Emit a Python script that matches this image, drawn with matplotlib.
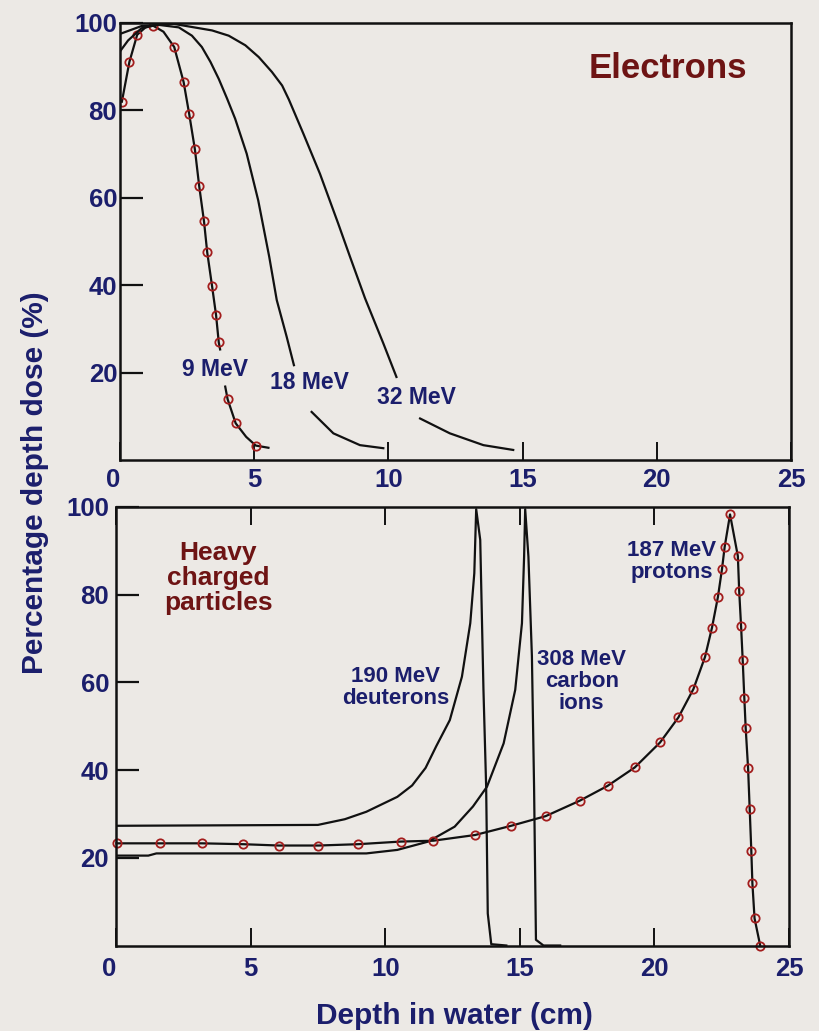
import matplotlib
matplotlib.use("Agg")
import matplotlib.pyplot as plt
import numpy as np

plt.rcParams['font.family'] = ['Liberation Sans', 'DejaVu Sans']
plt.rcParams['font.weight'] = 'bold'

nan = np.nan

# ---- electrons (top panel) ----
e9_x = [0.07, 0.35, 0.64, 0.95, 1.23, 1.62, 2.02, 2.37, 2.58, 2.79, 2.95, 3.13, 3.25, 3.43, 3.58, 3.68, 3.73,
        nan, 3.92, 4.01, 4.31, 4.70, 5.06, 5.53]
e9_y = [82.0, 91.1, 97.3, 99.0, 99.4, 98.0, 94.5, 86.5, 79.1, 71.1, 62.7, 54.6, 47.5, 39.8, 33.1, 26.9, 25.3,
        nan, 16.8, 13.9, 8.4, 5.3, 3.3, 2.8]
e9_marks = [0, 1, 2, 4, 6, 7, 8, 9, 10, 11, 12, 13, 14, 15, 19, 20, 22]

e18_x = [0.0, 0.3, 0.8, 1.4, 2.19, 2.68, 3.05, 3.37, 3.68, 3.99, 4.29, 4.72, 5.15, 5.56, 5.84, 6.21, 6.48,
         nan, 7.14, 7.95, 8.94, 9.81]
e18_y = [93.5, 96.0, 98.8, 99.6, 99.0, 97.1, 94.5, 91.1, 87.2, 82.7, 78.1, 70.1, 59.4, 46.5, 36.6, 28.2, 21.7,
         nan, 11.0, 6.1, 3.4, 2.7]

e32_x = [0.0, 0.8, 2.0, 3.43, 4.05, 4.67, 5.17, 5.66, 6.04, 6.29, 6.83, 7.45, 8.13, 8.57, 9.13, 9.81, 10.3,
         nan, 11.18, 12.29, 13.54, 14.65]
e32_y = [97.5, 99.3, 99.8, 98.3, 97.1, 94.9, 92.2, 88.8, 85.7, 82.5, 74.7, 65.5, 54.1, 46.5, 37.0, 26.7, 19.0,
         nan, 9.5, 6.1, 3.4, 2.3]

# ---- heavy charged particles (bottom panel) ----
deut_x = [0.0, 7.5, 8.5, 9.3, 10.45, 11.0, 11.5, 11.9, 12.4, 12.85, 13.16, 13.31, 13.38, 13.53, 13.65,
          13.75, 13.81, 13.94, 14.5]
deut_y = [27.3, 27.5, 28.8, 30.5, 33.9, 36.5, 40.5, 45.5, 51.4, 61.3, 73.5, 84.9, 99.5, 92.5, 58.3,
          36.2, 7.3, 0.3, 0.0]

carb_x = [0.0, 1.2, 1.5, 5.0, 9.3, 10.45, 11.6, 12.58, 13.26, 13.78, 14.4, 14.83, 15.08, 15.16, 15.2,
          15.32, 15.45, 15.53, 15.6, 15.88, 16.5]
carb_y = [20.5, 20.5, 21.0, 21.0, 21.0, 21.8, 23.7, 27.1, 31.7, 36.2, 46.1, 58.3, 73.5, 88.7, 99.5,
          88.7, 65.9, 36.2, 1.3, 0.0, 0.0]

prot_x = [0.02, 1.63, 3.2, 4.73, 6.05, 7.52, 8.98, 10.57, 11.79, 13.34, 14.68, 15.96, 17.22, 18.26,
          19.27, 20.21, 20.89, 21.45, 21.88, 22.14, 22.36, 22.51, 22.61, 22.81, 23.1, 23.15, 23.22,
          23.28, 23.34, 23.39, 23.48, 23.54, 23.6, 23.64, 23.72, 23.93]
prot_y = [23.3, 23.3, 23.3, 23.1, 22.8, 22.8, 23.1, 23.7, 23.9, 25.2, 27.3, 29.5, 33.0, 36.4,
          40.6, 46.3, 52.0, 58.5, 65.8, 72.5, 79.5, 85.8, 90.9, 98.3, 88.8, 80.8, 72.8,
          65.1, 56.5, 49.7, 40.4, 31.1, 21.6, 14.2, 6.2, 0.0]

x_ticks = [0, 5, 10, 15, 20, 25]
y_ticks = [20, 40, 60, 80, 100]

navy = '#1b1e6c'
darkred = '#6e1414'
bg = '#ece9e5'
line_c = '#111111'
mark_c = '#a31d1d'

fig = plt.figure(figsize=(8.19, 10.31), dpi=100, facecolor=bg)
ax1 = fig.add_axes([120 / 819, 1 - 460 / 1031, 671 / 819, 437 / 1031])
ax2 = fig.add_axes([116 / 819, 1 - 945.5 / 1031, 673 / 819, 438.5 / 1031])

for ax in (ax1, ax2):
    ax.set_facecolor(bg)
    ax.set_xlim(0, 25)
    ax.set_ylim(0, 100)
    ax.set_xticks(x_ticks)
    ax.set_yticks(y_ticks)
    for s in ax.spines.values():
        s.set_linewidth(1.8)
        s.set_color('#111111')
    ax.tick_params(axis='y', direction='in', length=16.5, width=1.6, color='#111111',
                   labelsize=18.5, labelcolor=navy)
    ax.tick_params(axis='x', direction='in', length=13, width=1.4, color='#111111',
                   labelsize=18.5, labelcolor=navy)

ax1.tick_params(axis='y', pad=2)
ax1.tick_params(axis='x', pad=6)
ax2.tick_params(axis='y', pad=5)
ax2.tick_params(axis='x', pad=8, top=True)
for ax in (ax1, ax2):
    ax.get_xticklabels()[0].set_horizontalalignment('right')

# top panel curves
ax1.plot(e9_x, e9_y, color=line_c, lw=1.6, marker='o', markevery=e9_marks, ms=6,
         mfc='none', mec=mark_c, mew=1.3)
ax1.plot(e18_x, e18_y, color=line_c, lw=1.6)
ax1.plot(e32_x, e32_y, color=line_c, lw=1.6)

ax1.text(20.42, 89.6, 'Electrons', color=darkred, fontsize=25, ha='center', va='center')
ax1.text(3.54, 20.7, '9 MeV', color=navy, fontsize=16.5, ha='center', va='center')
ax1.text(7.04, 17.7, '18 MeV', color=navy, fontsize=16.5, ha='center', va='center')
ax1.text(11.05, 14.4, '32 MeV', color=navy, fontsize=16.5, ha='center', va='center')

# bottom panel curves
ax2.plot(deut_x, deut_y, color=line_c, lw=1.6)
ax2.plot(carb_x, carb_y, color=line_c, lw=1.6)
ax2.plot(prot_x, prot_y, color=line_c, lw=1.6, marker='o', ms=6, mfc='none', mec=mark_c,
         mew=1.3, clip_on=False)

ax2.text(3.8, 83.8, 'Heavy\ncharged\nparticles', color=darkred, fontsize=19, ha='center',
         va='center', linespacing=1.05)
ax2.text(10.4, 58.9, '190 MeV\ndeuterons', color=navy, fontsize=16, ha='center', va='center',
         linespacing=1.05)
ax2.text(17.3, 60.2, '308 MeV\ncarbon\nions', color=navy, fontsize=16, ha='center', va='center',
         linespacing=1.05)
ax2.text(20.63, 87.5, '187 MeV\nprotons', color=navy, fontsize=16, ha='center', va='center',
         linespacing=1.05)

fig.text(35 / 819, 1 - 483 / 1031, 'Percentage depth dose (%)', rotation=90, color=navy,
         fontsize=21.5, ha='center', va='center')
fig.text(454 / 819, 1 - 1016 / 1031, 'Depth in water (cm)', color=navy, fontsize=21.5,
         ha='center', va='center')

fig.savefig('out.png', dpi=100, facecolor=bg)
